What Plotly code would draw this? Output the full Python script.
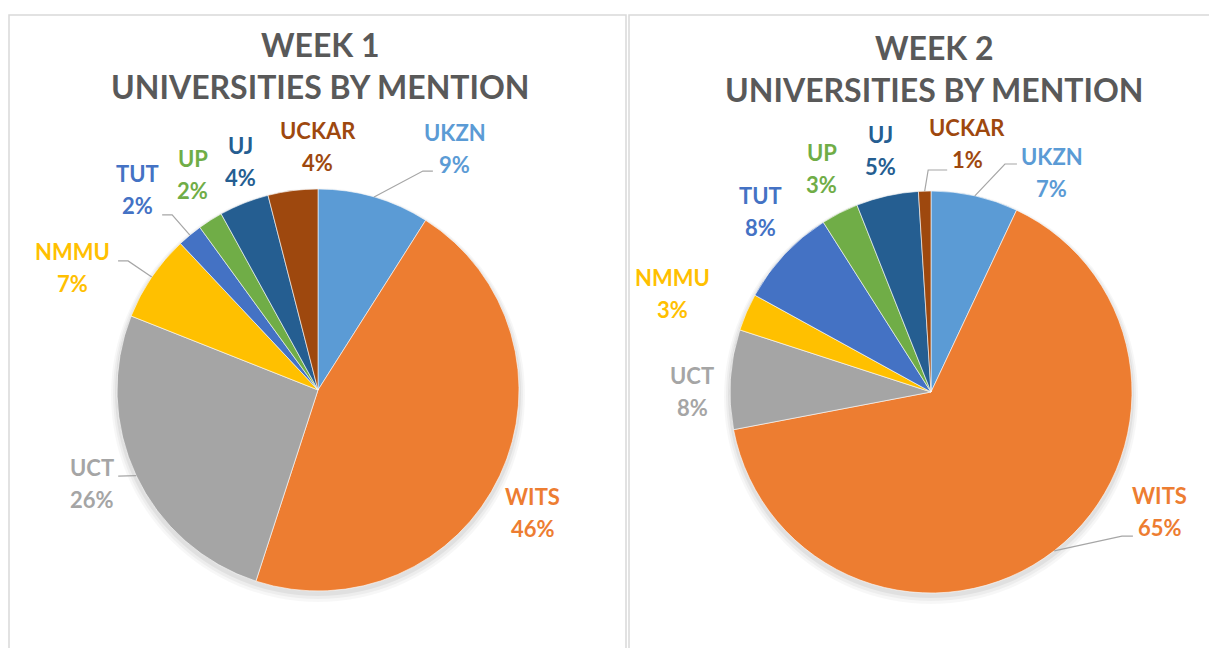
import math
import plotly.graph_objects as go

W, H = 1217, 648
PAGE_OFFSET = 8  # default body margin of the page holding the figure

# ---- data ----
universities = ["UKZN", "WITS", "UCT", "NMMU", "TUT", "UP", "UJ", "UCKAR"]
week1_share = [9, 46, 26, 7, 2, 2, 4, 4]
week2_share = [7, 65, 8, 3, 8, 3, 5, 1]
chart_titles = ["WEEK 1<br>UNIVERSITIES BY MENTION", "WEEK 2<br>UNIVERSITIES BY MENTION"]

# ---- style ----
slice_colors = ["#5B9BD5", "#ED7D31", "#A5A5A5", "#FFC000",
                "#4472C4", "#70AD47", "#255E91", "#9E480E"]
FONT = "Lato, 'Open Sans', sans-serif"
TITLE_COLOR = "#595959"
LEADER_COLOR = "#A6A6A6"
BORDER_COLOR = "#D9D9D9"

# layout of each panel (page pixels)
panels = [
    dict(values=week1_share, title=chart_titles[0], cx=318, cy=390, r=201,
         title_xy=(320.5, 65),
         # label placement (angle clockwise from 12 o'clock, distance / radius)
         label_ang=[29.5, 119.6, 247.6, 296.4, 317.9, 329.9, 341.4, 360.0],
         label_dist=[1.383, 1.229, 1.215, 1.366, 1.342, 1.242, 1.202, 1.209],
         # leader line end offsets relative to label centre (px), elbow length
         leaders={"UKZN": (-22, 23, -10), "UCT": (26, -7, 0),
                  "NMMU": (46, -7, 10), "TUT": (25, 25, 10)},
         border=(9, 626)),
    dict(values=week2_share, title=chart_titles[1], cx=931, cy=392, r=201,
         title_xy=(934, 69),
         label_ang=[28.8, 117.5, 270.2, 290.9, 316.5, 334.0, 348.1, 8.3],
         label_dist=[1.249, 1.284, 1.189, 1.379, 1.235, 1.239, 1.226, 1.247],
         leaders={"UKZN": (-35, -8, -12), "WITS": (-27, 25, -11),
                  "UCKAR": (-20, 26, -19)},
         border=(629, 1300)),
]


def px(x, y):
    return (x - PAGE_OFFSET) / W, 1 - (y - PAGE_OFFSET) / H


fig = go.Figure()
shapes = []
annotations = []

for p in panels:
    cx, cy, r = p["cx"], p["cy"], p["r"]
    # panel border
    bx0, bx1 = p["border"]
    x0, y1 = px(bx0, 15)
    x1, _ = px(bx1, 15)
    shapes.append(dict(type="rect", xref="paper", yref="paper",
                       x0=x0, x1=x1, y0=-0.2, y1=y1,
                       line=dict(color=BORDER_COLOR, width=1.5), layer="below"))
    # soft shadow
    for grow, dy, alpha in [(6, 5, 0.03), (4, 4, 0.04), (2, 3, 0.05)]:
        sx0, sy0 = px(cx - r - grow, cy + dy + r + grow)
        sx1, sy1 = px(cx + r + grow, cy + dy - r - grow)
        shapes.append(dict(type="circle", xref="paper", yref="paper",
                           x0=sx0, x1=sx1, y0=sy0, y1=sy1,
                           line=dict(width=0), fillcolor=f"rgba(0,0,0,{alpha})",
                           layer="below"))
    # pie
    dx0, dy0 = px(cx - r, cy + r)
    dx1, dy1 = px(cx + r, cy - r)
    fig.add_trace(go.Pie(
        labels=universities, values=p["values"], sort=False,
        direction="clockwise", rotation=0,
        marker=dict(colors=slice_colors, line=dict(color="white", width=0.6)),
        textinfo="none", hoverinfo="label+percent",
        domain=dict(x=[dx0, dx1], y=[dy0, dy1]), showlegend=False))

    # title
    tx, ty = px(*p["title_xy"])
    annotations.append(dict(text=p["title"], x=tx, y=ty, xref="paper", yref="paper",
                            xanchor="center", yanchor="middle", showarrow=False,
                            font=dict(family=FONT, size=32, color=TITLE_COLOR,
                                      weight="bold")))

    total = sum(p["values"])
    cum = 0.0
    for i, (name, v) in enumerate(zip(universities, p["values"])):
        mid = (cum + v / 2) / total * 360.0
        cum += v
        a = math.radians(p["label_ang"][i])
        d = p["label_dist"][i] * r
        lx = cx + d * math.sin(a)
        ly = cy - d * math.cos(a)
        pct = f"{round(v / total * 100)}%"
        for txt, off in [(name, -16), (pct, 16)]:
            ax, ay = px(lx, ly + off)
            annotations.append(dict(text=txt, x=ax, y=ay, xref="paper", yref="paper",
                                    xanchor="center", yanchor="middle", showarrow=False,
                                    font=dict(family=FONT, size=22,
                                              color=slice_colors[i], weight="bold")))
        if name in p["leaders"]:
            ox, oy, ex = p["leaders"][name]
            m = math.radians(mid)
            sx, sy = cx + r * math.sin(m), cy - r * math.cos(m)
            endx, endy = lx + ox, ly + oy
            elx, ely = endx + ex, endy
            pts = [px(sx, sy), px(elx, ely), px(endx, endy)]
            path = "M {} {} L {} {} L {} {}".format(*[c for pt in pts for c in pt])
            shapes.append(dict(type="path", xref="paper", yref="paper", path=path,
                               line=dict(color=LEADER_COLOR, width=1.2)))

fig.update_layout(
    width=W, height=H, margin=dict(l=0, r=0, t=0, b=0),
    paper_bgcolor="white", plot_bgcolor="white",
    shapes=shapes, annotations=annotations,
)

fig.write_html("out.html")
